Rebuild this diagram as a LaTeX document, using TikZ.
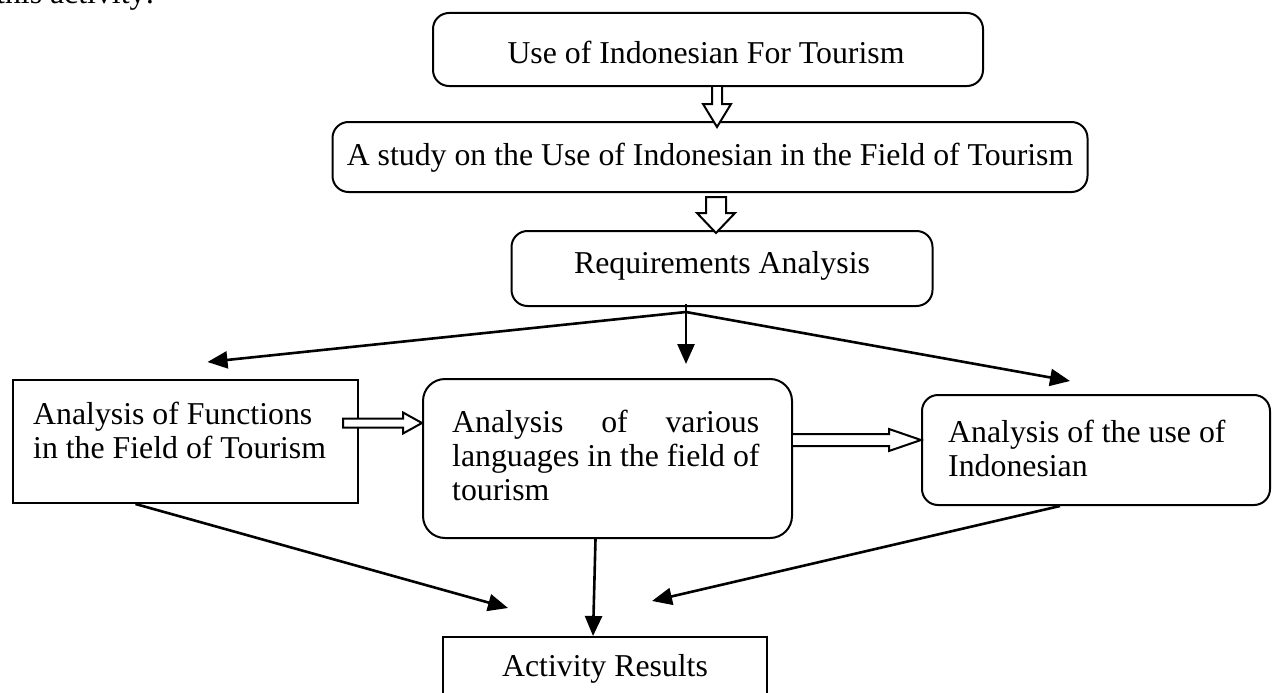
\documentclass[tikz,border=0pt]{standalone}
\usepackage{fontspec}
\setmainfont{Liberation Serif}
\usetikzlibrary{arrows.meta,calc}
\begin{document}
\begin{tikzpicture}[x=1pt,y=-1pt,
  txt/.style={font=\fontsize{31.8}{36}\selectfont, inner sep=0pt},
  rbox/.style={draw, line width=2pt, rounded corners=16pt, inner sep=0pt},
  sbox/.style={draw, line width=2pt, inner sep=0pt},
  conn/.style={line width=2.6pt, -{Triangle[length=20pt,width=17pt]}},
  hollow/.style={draw, line width=2pt, fill=white, line join=miter}
]
\useasboundingbox (0,0) rectangle (1274,693);

% cut-off line of preceding text
\node[txt, anchor=base west] (prev) at (-4,4) {this activity:};

% boxes
\node[rbox, minimum width=550pt, minimum height=73pt] (b1) at (708,49.5) {};
\node[txt] (t1) at (706,52) {Use of Indonesian For Tourism};

\node[rbox, minimum width=755pt, minimum height=70pt] (b2) at (710,157) {};
\node[txt] (t2) at (710,158) {A study on the Use of Indonesian in the Field of Tourism};

\node[rbox, minimum width=421pt, minimum height=75pt] (b3) at (722,268.5) {};
\node[txt] (t3) at (722,266) {Requirements Analysis};

\node[sbox, minimum width=345pt, minimum height=123pt] (b4) at (185.5,441.5) {};
\node[txt, anchor=base west] (t4a) at (33,424) {Analysis of Functions};
\node[txt, anchor=base west] (t4b) at (33,458) {in the Field of Tourism};

\node[rbox, rounded corners=22pt, minimum width=369pt, minimum height=159pt] (b5) at (607.5,458.5) {};
\node[txt, anchor=base west] (t5a) at (452,432) {\makebox[307pt][s]{Analysis of various}};
\node[txt, anchor=base west] (t5b) at (452,466) {languages in the field of};
\node[txt, anchor=base west] (t5c) at (452,500) {tourism};

\node[rbox, minimum width=348pt, minimum height=110pt] (b6) at (1096,450) {};
\node[txt, anchor=base west] (t6a) at (948,442) {Analysis of the use of};
\node[txt, anchor=base west] (t6b) at (948,476) {Indonesian};

\node[sbox, minimum width=324pt, minimum height=80pt] (b7) at (605,677) {};
\node[txt, anchor=base] (t7) at (605,676) {Activity Results};

% hollow block arrows
\draw[hollow] ($(b1.south)+(4,0)$) -- ++(0,17) -- ++(-9,0) -- ($(b1.south)+(9,40)$)
  -- ($(b1.south)+(23,17)$) -- ++(-9,0) -- ($(b1.south)+(14,0)$);
\draw[hollow] ($(b2.south)+(-4,4)$) -- ++(0,16) -- ++(-9,0) -- ($(b2.south)+(6,40)$)
  -- ($(b2.south)+(25,20)$) -- ++(-9,0) -- ($(b2.south)+(16,4)$) -- cycle;
\draw[hollow] ($(b4.east)+(-16,-23)$) -- ++(60,0) -- ++(0,-6) -- ($(b5.west)+(0,-35.5)$)
  -- ($(b4.east)+(44,-8)$) -- ++(0,-6) -- ($(b4.east)+(-16,-14)$) -- cycle;
\draw[hollow] ($(b5.east)+(0,-24.5)$) -- ++(96,0) -- ++(0,-5) -- ($(b6.west)+(0,-10)$)
  -- ($(b5.east)+(96,-7.5)$) -- ++(0,-5) -- ($(b5.east)+(0,-12.5)$);

% branch from requirements analysis
\coordinate (br) at ($(b3.south)+(-36,5)$);
\draw[conn] ($(b3.south)+(-36,-3)$) -- ($(b3.south)+(-36,57)$);
\draw[conn] (br) -- ($(b4.north)+(22,-17)$);
\draw[conn] (br) -- ($(b6.north)+(-26,-13)$);

% to activity results
\draw[conn] ($(b4.south)+(-50,0)$) -- ($(b7.north west)+(66,-28)$);
\draw[conn] ($(b5.south)+(-12,0)$) -- ($(b7.north)+(-12,0)$);
\draw[conn] ($(b6.south)+(-36,0)$) -- ($(b7.north)+(47,-35)$);
\end{tikzpicture}
\end{document}
